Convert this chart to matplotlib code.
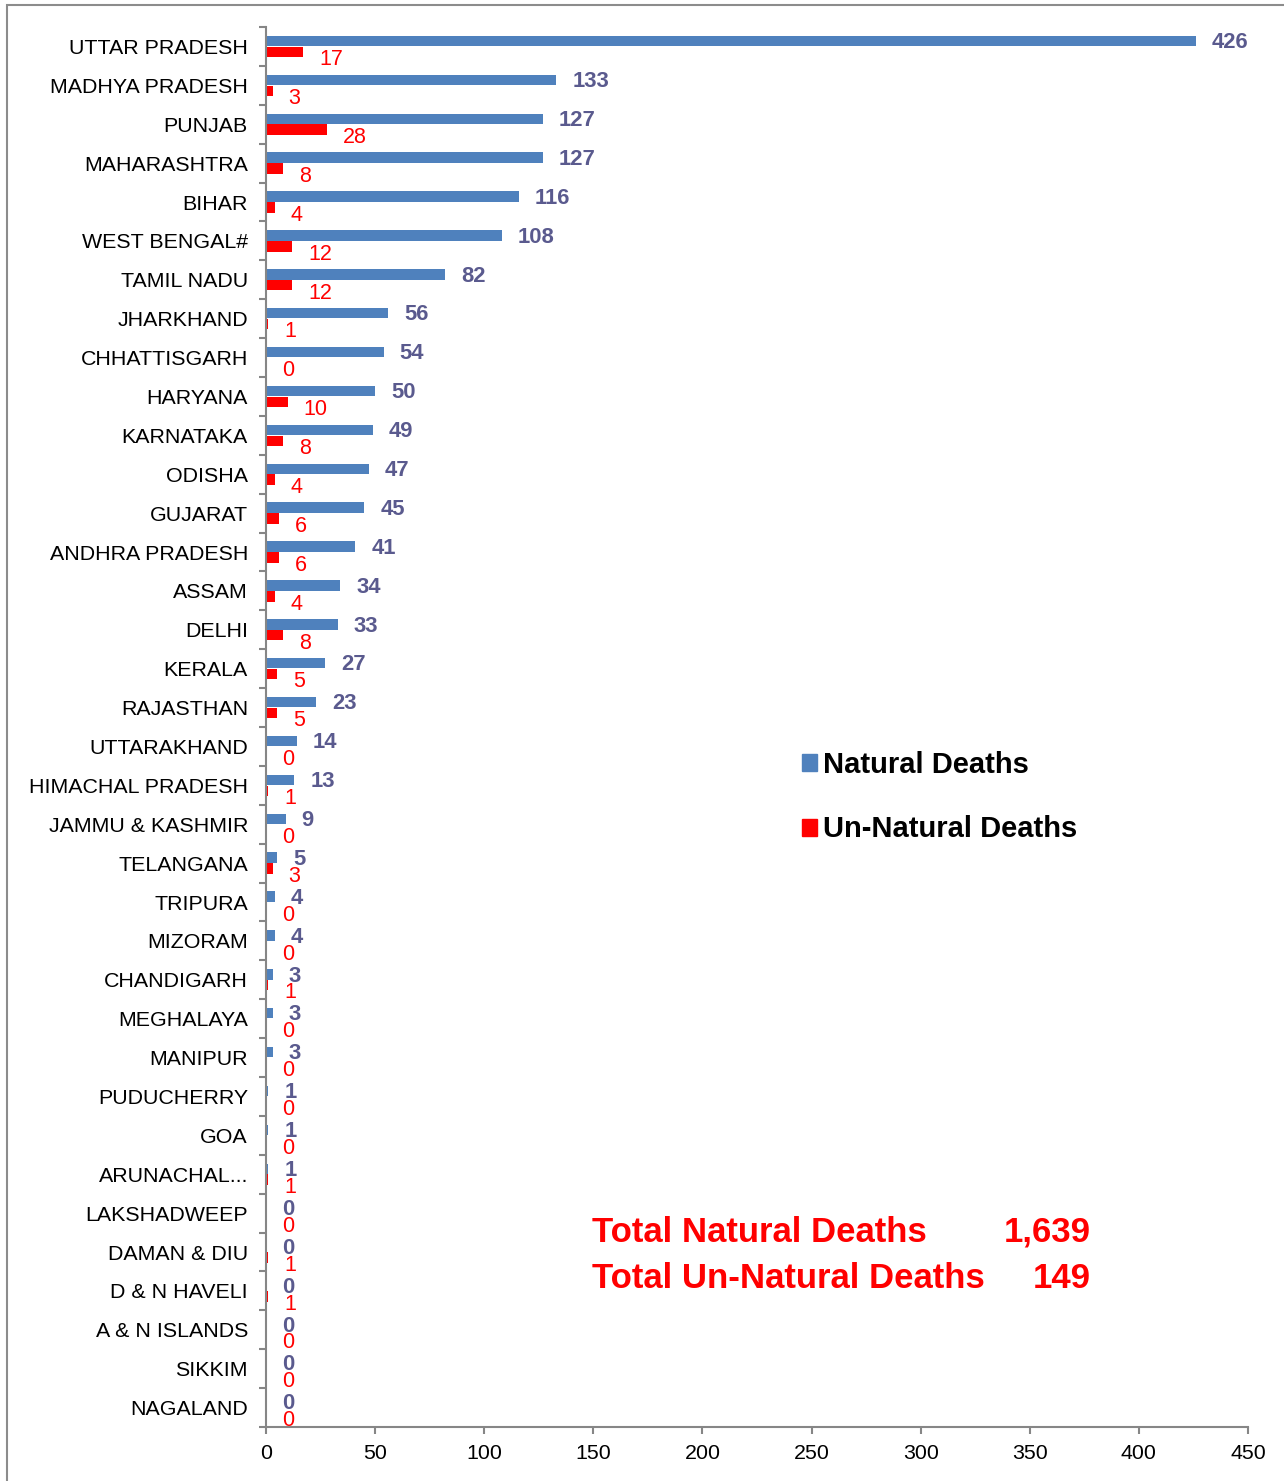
import matplotlib
matplotlib.use("Agg")
import matplotlib.pyplot as plt
from matplotlib.patches import Rectangle, Patch
import numpy as np

plt.rcParams['font.family'] = ['Liberation Sans', 'DejaVu Sans']

states = ["UTTAR PRADESH", "MADHYA PRADESH", "PUNJAB", "MAHARASHTRA", "BIHAR",
          "WEST BENGAL#", "TAMIL NADU", "JHARKHAND", "CHHATTISGARH", "HARYANA",
          "KARNATAKA", "ODISHA", "GUJARAT", "ANDHRA PRADESH", "ASSAM", "DELHI",
          "KERALA", "RAJASTHAN", "UTTARAKHAND", "HIMACHAL PRADESH",
          "JAMMU & KASHMIR", "TELANGANA", "TRIPURA", "MIZORAM", "CHANDIGARH",
          "MEGHALAYA", "MANIPUR", "PUDUCHERRY", "GOA", "ARUNACHAL...",
          "LAKSHADWEEP", "DAMAN & DIU", "D & N HAVELI", "A & N ISLANDS",
          "SIKKIM", "NAGALAND"]
natural = [426, 133, 127, 127, 116, 108, 82, 56, 54, 50, 49, 47, 45, 41, 34, 33,
           27, 23, 14, 13, 9, 5, 4, 4, 3, 3, 3, 1, 1, 1, 0, 0, 0, 0, 0, 0]
unnatural = [17, 3, 28, 8, 4, 12, 12, 1, 0, 10, 8, 4, 6, 6, 4, 8, 5, 5, 0, 1, 0,
             3, 0, 0, 1, 0, 0, 0, 0, 1, 0, 1, 1, 0, 0, 0]
xticks = [0, 50, 100, 150, 200, 250, 300, 350, 400, 450]
total_natural = "1,639"
total_unnatural = "149"

W, H = 1284, 1481
fig = plt.figure(figsize=(W / 100, H / 100), dpi=100)
ax = fig.add_axes([266 / W, 1 - 1427 / H, (1248 - 266) / W, (1427 - 27) / H])

BLUE = "#4F81BD"
RED = "#FF0000"
LBL = "#5A5A8E"
GRAY = "#868686"

y = np.arange(len(states))
bh = 0.27
ax.barh(y - 0.14, natural, height=bh, color=BLUE, label="Natural Deaths")
ax.barh(y + 0.14, unnatural, height=bh, color=RED, label="Un-Natural Deaths")

for yi, v in zip(y, natural):
    ax.annotate(str(v), (v, yi - 0.14), xytext=(11.5, -1.2), textcoords="offset points",
                ha="left", va="center", fontsize=15.8, fontweight="bold", color=LBL)
for yi, v in zip(y, unnatural):
    ax.annotate(str(v), (v, yi + 0.14), xytext=(11.5, -5.6), textcoords="offset points",
                ha="left", va="center", fontsize=15.5, color=RED)

ax.set_xlim(0, 450)
ax.set_ylim(len(states) - 0.5, -0.5)
ax.set_xticks(xticks)
ax.set_xticklabels([str(t) for t in xticks], fontsize=15.4)
ax.tick_params(axis="x", direction="out", length=5, width=1.5, color=GRAY, pad=7.5)

ax.set_yticks(np.arange(-0.5, len(states), 1.0))
ax.set_yticklabels([])
ax.tick_params(axis="y", which="major", direction="out", length=5, width=1.5, color=GRAY)
ax.set_yticks(y, minor=True)
ax.set_yticklabels(states, minor=True, fontsize=15.4)
ax.tick_params(axis="y", which="minor", length=0, pad=13)

for s in ["top", "right"]:
    ax.spines[s].set_visible(False)
for s in ["left", "bottom"]:
    ax.spines[s].set_color(GRAY)
    ax.spines[s].set_linewidth(1.5)

# legend
handles = [Patch(color=BLUE, label="Natural Deaths"), Patch(color=RED, label="Un-Natural Deaths")]
leg = fig.legend(handles=handles, loc="upper left",
                 bbox_to_anchor=(802 / W, 1 - 751 / H), frameon=False,
                 prop={"weight": "bold", "size": 21}, handlelength=0.52,
                 handleheight=0.52, handletextpad=0.2, labelspacing=1.25,
                 borderpad=0, borderaxespad=0)

# totals
fig.text(592 / W, 1 - 1232 / H, "Total Natural Deaths", color=RED, fontsize=25,
         fontweight="bold", ha="left", va="center")
fig.text(1091 / W, 1 - 1232 / H, total_natural, color=RED, fontsize=25,
         fontweight="bold", ha="right", va="center")
fig.text(592 / W, 1 - 1279 / H, "Total Un-Natural Deaths", color=RED, fontsize=25,
         fontweight="bold", ha="left", va="center")
fig.text(1091 / W, 1 - 1279 / H, total_unnatural, color=RED, fontsize=25,
         fontweight="bold", ha="right", va="center")

# outer frame
fig.patches.append(Rectangle((7 / W, -0.01), 1.02, 1 - 5 / H + 0.01,
                             transform=fig.transFigure, fill=False,
                             edgecolor="#8C8C8C", linewidth=1.5))

fig.savefig("out.png", dpi=100)
